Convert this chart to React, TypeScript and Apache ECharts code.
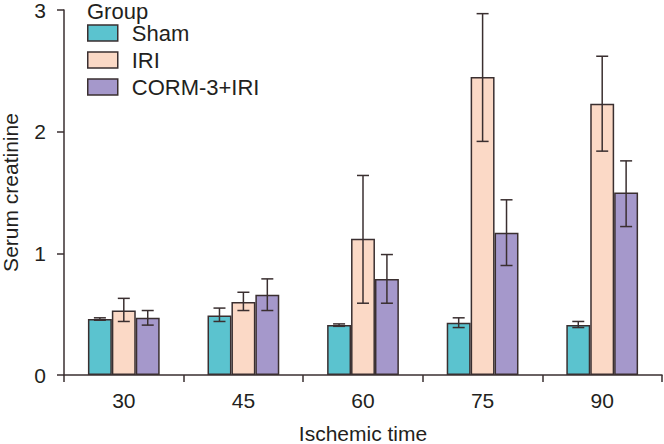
import React, { useEffect, useRef } from "react";
import * as echarts from "echarts";

const categories = ["30", "45", "60", "75", "90"];
const seriesNames = ["Sham", "IRI", "CORM-3+IRI"];
const shamMean = [0.46, 0.49, 0.41, 0.43, 0.41];
const shamLow = [0.45, 0.44, 0.40, 0.39, 0.39];
const shamHigh = [0.47, 0.55, 0.42, 0.47, 0.44];
const iriMean = [0.53, 0.60, 1.12, 2.45, 2.23];
const iriLow = [0.44, 0.53, 0.59, 1.92, 1.84];
const iriHigh = [0.63, 0.68, 1.64, 2.97, 2.62];
const cormMean = [0.47, 0.66, 0.79, 1.17, 1.50];
const cormLow = [0.41, 0.53, 0.59, 0.90, 1.22];
const cormHigh = [0.53, 0.79, 0.99, 1.44, 1.76];
const yTicks = [0, 1, 2, 3];

const colors = ["#5BC3CF", "#FBD9C6", "#A598CB"];
const edge = "#3A2F30";
const textColor = "#231F20";
const font = "'Liberation Sans', Arial, sans-serif";

export default function App() {
  const ref = useRef<HTMLDivElement>(null);
  useEffect(() => {
    if (!ref.current) return;
    const chart = echarts.init(ref.current, undefined, { renderer: "svg" });
    const means = [shamMean, iriMean, cormMean];
    const lows = [shamLow, iriLow, cormLow];
    const highs = [shamHigh, iriHigh, cormHigh];
    const barSeries = seriesNames.map((name, i) => ({
      name,
      type: "bar",
      data: means[i],
      barGap: "0%",
      barCategoryGap: "40%",
      itemStyle: { color: colors[i], borderColor: edge, borderWidth: 1.5 },
      z: 2,
    }));
    const errSeries = seriesNames.map((name, i) => ({
      name: name + " error",
      type: "custom",
      z: 5,
      data: categories.map((_, k) => [k, lows[i][k], highs[i][k]]),
      encode: { x: 0, y: [1, 2] },
      renderItem: (params: any, api: any) => {
        const k = api.value(0);
        const lo = api.coord([k, api.value(1)]);
        const hi = api.coord([k, api.value(2)]);
        const band = api.size([1, 0])[0];
        const x = lo[0] + (i - 1) * band * 0.2;
        const cap = 6;
        const style = { stroke: edge, lineWidth: 1.5 };
        return {
          type: "group",
          children: [
            { type: "line", shape: { x1: x, y1: lo[1], x2: x, y2: hi[1] }, style },
            { type: "line", shape: { x1: x - cap, y1: hi[1], x2: x + cap, y2: hi[1] }, style },
            { type: "line", shape: { x1: x - cap, y1: lo[1], x2: x + cap, y2: lo[1] }, style },
          ],
        };
      },
    }));
    chart.setOption({
      animation: false,
      textStyle: { fontFamily: font, color: textColor },
      grid: { left: 64, right: 2, top: 10, bottom: 69, containLabel: false, outerBoundsMode: "none" },
      graphic: [
        {
          type: "text",
          left: 87,
          top: 0,
          style: { text: "Group", fontSize: 22, fontFamily: font, fill: textColor },
        },
      ],
      legend: {
        orient: "vertical",
        left: 82,
        top: 17,
        itemWidth: 30,
        itemHeight: 16,
        itemGap: 5,
        icon: "rect",
        data: seriesNames,
        itemStyle: { borderColor: edge, borderWidth: 1.5 },
        textStyle: { fontSize: 22, fontFamily: font, color: textColor, padding: [0, 0, 0, 9] },
        selectedMode: false,
      },
      xAxis: {
        type: "category",
        data: categories,
        name: "Ischemic time",
        nameLocation: "middle",
        nameGap: 48,
        nameTextStyle: { fontSize: 21, fontFamily: font, color: textColor },
        axisLine: { lineStyle: { color: edge, width: 1.5 } },
        axisTick: { show: true, length: 7, lineStyle: { color: edge, width: 1.5 } },
        axisLabel: { fontSize: 21, fontFamily: font, color: textColor, margin: 15 },
      },
      yAxis: {
        type: "value",
        min: yTicks[0],
        max: yTicks[yTicks.length - 1],
        interval: 1,
        name: "Serum creatinine",
        nameLocation: "middle",
        nameGap: 43,
        nameTextStyle: { fontSize: 21, fontFamily: font, color: textColor },
        axisLine: { show: true, lineStyle: { color: edge, width: 1.5 } },
        axisTick: { show: true, length: 7, lineStyle: { color: edge, width: 1.5 } },
        axisLabel: { fontSize: 21, fontFamily: font, color: textColor, margin: 18, padding: [2, 0, 0, 0] },
        splitLine: { show: false },
      },
      series: [...barSeries, ...errSeries],
    });
    return () => chart.dispose();
  }, []);
  return <div ref={ref} style={{ width: 664, height: 444, position: "absolute", left: 0, top: 0 }} />;
}
